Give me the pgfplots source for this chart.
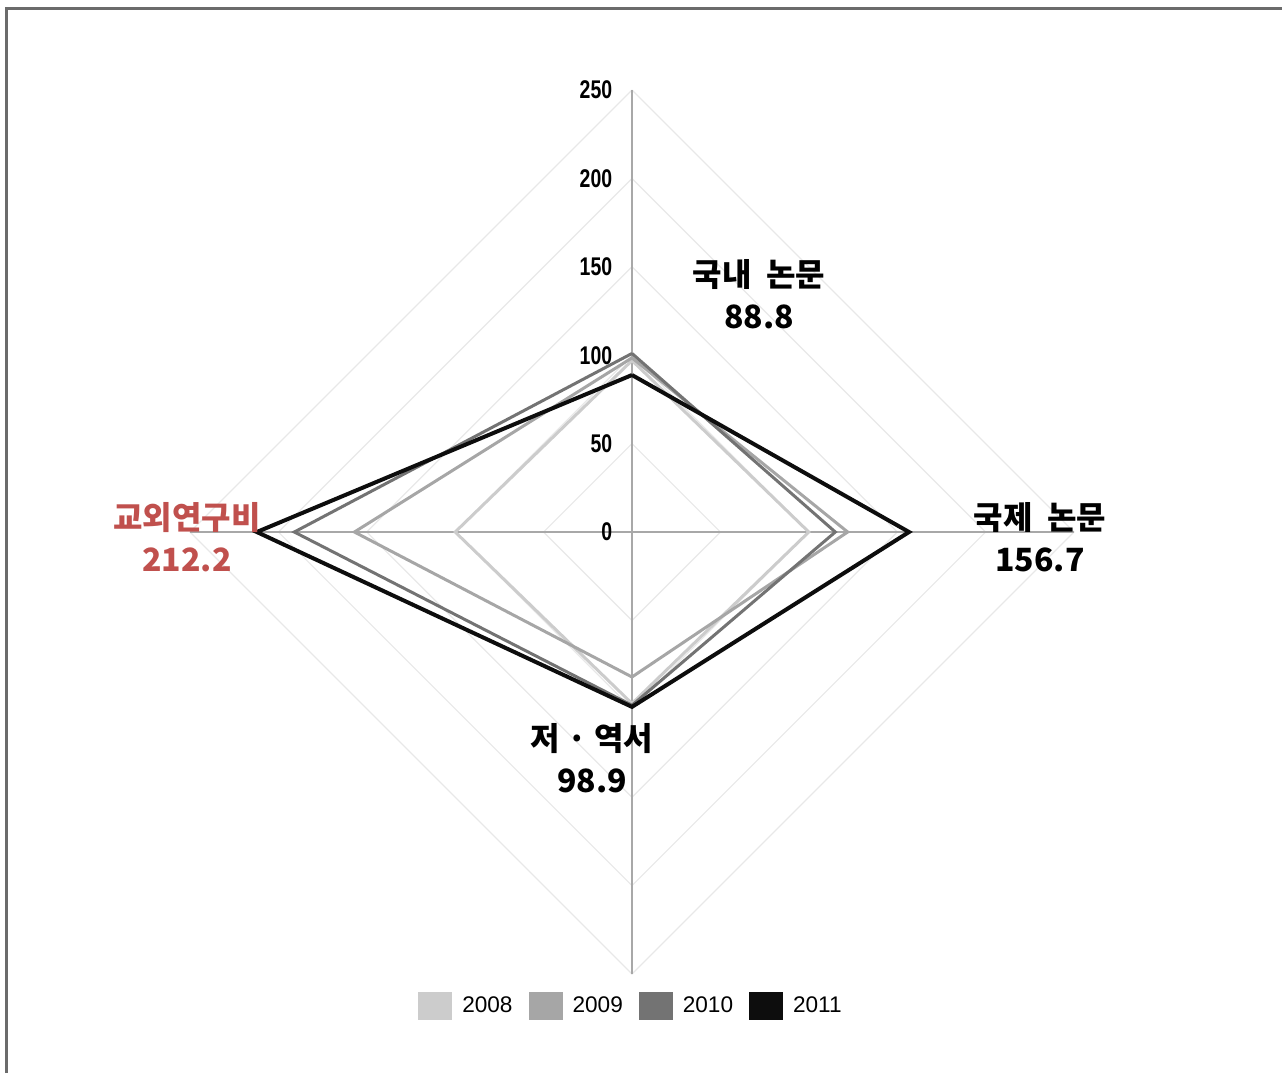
\documentclass[border=0pt]{standalone}
\usepackage{fontspec}
\setmainfont{Liberation Sans}
\newfontfamily\kr{Noto Sans CJK KR}
\newfontfamily\narrow{Liberation Sans}[FakeStretch=0.76]
\usepackage{pgfplots}
\pgfplotsset{compat=1.18}

\definecolor{c2008}{HTML}{CCCCCC}
\definecolor{c2009}{HTML}{A6A6A6}
\definecolor{c2010}{HTML}{737373}
\definecolor{c2011}{HTML}{0D0D0D}
\definecolor{gridc}{HTML}{E8E8E8}
\definecolor{spoke}{HTML}{A8A8A8}
\definecolor{frame}{HTML}{6B6B6B}
\definecolor{lblred}{HTML}{C0504D}

\begin{document}
\begin{tikzpicture}
\path[use as bounding box] (0,0) rectangle (641pt,-536.5pt);
\draw[line width=1.5pt, color=frame] (3pt,-536.5pt) -- (3pt,-4pt) -- (641pt,-4pt);

\begin{axis}[
	at={(316pt,-266pt)}, anchor=origin,
	x=0.884pt, y=0.884pt,
	xmin=-260, xmax=260, ymin=-260, ymax=260,
	hide axis, clip=false,
	no markers,
	legend columns=4,
	legend style={at={(0.5,-0.0154)}, anchor=center, draw=none,
		font=\fontsize{11.3}{11.3}\selectfont,
		/tikz/every even column/.append style={column sep=6pt}},
	legend image code/.code={\fill[#1, draw=none] (0pt,-7pt) rectangle (17pt,7pt);
		\path[draw=none, fill=none] (20pt,0pt);},
]
% diamond grid
\addplot[gridc, line width=0.6pt, forget plot] coordinates {(0,50) (50,0) (0,-50) (-50,0) (0,50)};
\addplot[gridc, line width=0.6pt, forget plot] coordinates {(0,100) (100,0) (0,-100) (-100,0) (0,100)};
\addplot[gridc, line width=0.6pt, forget plot] coordinates {(0,150) (150,0) (0,-150) (-150,0) (0,150)};
\addplot[gridc, line width=0.6pt, forget plot] coordinates {(0,200) (200,0) (0,-200) (-200,0) (0,200)};
\addplot[gridc, line width=0.6pt, forget plot] coordinates {(0,250) (250,0) (0,-250) (-250,0) (0,250)};
% spokes
\addplot[spoke, line width=0.7pt, forget plot] coordinates {(0,-250) (0,250)};
\addplot[spoke, line width=0.7pt, forget plot] coordinates {(-250,0) (250,0)};

% series: (0,top) (right,0) (0,-bottom) (-left,0)
\addplot[color=c2008, line width=1.5pt, line join=miter] coordinates {(0,97) (100,0) (0,-97) (-100,0) (0,97)};
\addplot[color=c2009, line width=1.5pt, line join=miter] coordinates {(0,98.5) (122,0) (0,-82) (-157,0) (0,98.5)};
\addplot[color=c2010, line width=1.5pt, line join=miter] coordinates {(0,101) (115,0) (0,-98) (-191,0) (0,101)};
\addplot[color=c2011, line width=2pt, line join=miter] coordinates {(0,88.8) (156.7,0) (0,-98.9) (-212.2,0) (0,88.8)};
\legend{2008,2009,2010,2011}

% radial tick labels
\node[anchor=east, font=\narrow\bfseries\fontsize{12.8}{12.8}\selectfont, inner sep=0pt] at (axis cs:-11,0) {0};
\node[anchor=east, font=\narrow\bfseries\fontsize{12.8}{12.8}\selectfont, inner sep=0pt] at (axis cs:-11,50) {50};
\node[anchor=east, font=\narrow\bfseries\fontsize{12.8}{12.8}\selectfont, inner sep=0pt] at (axis cs:-11,100) {100};
\node[anchor=east, font=\narrow\bfseries\fontsize{12.8}{12.8}\selectfont, inner sep=0pt] at (axis cs:-11,150) {150};
\node[anchor=east, font=\narrow\bfseries\fontsize{12.8}{12.8}\selectfont, inner sep=0pt] at (axis cs:-11,200) {200};
\node[anchor=east, font=\narrow\bfseries\fontsize{12.8}{12.8}\selectfont, inner sep=0pt] at (axis cs:-11,250) {250};

% category labels
\node[align=center, font=\kr\bfseries\fontsize{16}{21}\selectfont] at (axis cs:71.8,134.3) {국내\ \ 논문\\{\fontsize{16}{21}\selectfont 88.8}};
\node[align=center, font=\kr\bfseries\fontsize{16}{21}\selectfont] at (axis cs:230.8,-3.1) {국제\ \ 논문\\{\fontsize{16}{21}\selectfont 156.7}};
\node[align=center, font=\kr\bfseries\fontsize{16}{21}\selectfont] at (axis cs:-22.6,-128.1) {저 · 역서\\{\fontsize{16}{21}\selectfont 98.9}};
\node[align=center, text=lblred, font=\kr\bfseries\fontsize{16}{21}\selectfont] at (axis cs:-251.7,-3.1) {교외연구비\\{\fontsize{16}{21}\selectfont 212.2}};
\end{axis}
\end{tikzpicture}
\end{document}
